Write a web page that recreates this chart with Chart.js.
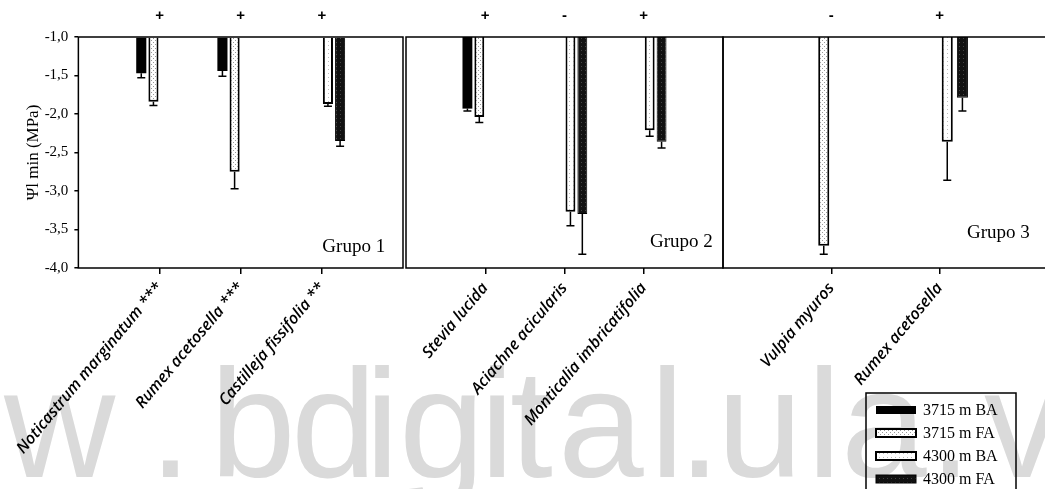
<!DOCTYPE html>
<html>
<head>
<meta charset="utf-8">
<script src="https://cdn.jsdelivr.net/npm/chart.js@4.4.1/dist/chart.umd.min.js"></script>
<style>
html, body { margin: 0; padding: 0; background: #fff; overflow: hidden; width: 1045px; height: 489px; }
canvas { position: absolute; top: 0; }
</style>
</head>
<body>
<canvas id="marca" width="1045" height="489" style="left:0"></canvas>
<canvas id="graph1" width="409" height="489" style="left:-5px"></canvas>
<canvas id="graph2" width="320" height="489" style="left:404px"></canvas>
<canvas id="graph3" width="335" height="489" style="left:722px"></canvas>
<script>
// series (leyenda)
var series = ['3715 m BA', '3715 m FA', '4300 m BA', '4300 m FA'];
var yTicks = [-1.0, -1.5, -2.0, -2.5, -3.0, -3.5, -4.0];

// Grupo 1
var grupo1 = ['Noticastrum marginatum ***', 'Rumex acetosella ***', 'Castilleja fissifolia **'];
var signos1 = ['+', '+', '+'];
var g1BA3715 = [-1.47, -1.44, null];
var g1FA3715 = [-1.84, -2.75, null];
var g1BA4300 = [null, null, -1.87];
var g1FA4300 = [null, null, -2.35];
var e1BA3715 = [0.06, 0.07, null];
var e1FA3715 = [0.05, 0.22, null];
var e1BA4300 = [null, null, 0.03];
var e1FA4300 = [null, null, 0.07];

// Grupo 2
var grupo2 = ['Stevia lucida', 'Aciachne acicularis', 'Monticalia imbricatifolia'];
var signos2 = ['+', '-', '+'];
var g2BA3715 = [-1.93, null, null];
var g2FA3715 = [-2.04, null, null];
var g2BA4300 = [null, -3.27, -2.21];
var g2FA4300 = [null, -3.30, -2.36];
var e2BA3715 = [0.03, null, null];
var e2FA3715 = [0.07, null, null];
var e2BA4300 = [null, 0.18, 0.08];
var e2FA4300 = [null, 0.52, 0.08];

// Grupo 3
var grupo3 = ['Vulpia myuros', 'Rumex acetosella'];
var signos3 = ['-', '+'];
var g3BA3715 = [null, null];
var g3FA3715 = [-3.71, null];
var g3BA4300 = [null, -2.36];
var g3FA4300 = [null, -1.79];
var e3BA3715 = [null, null];
var e3FA3715 = [0.11, null];
var e3BA4300 = [null, 0.50];
var e3FA4300 = [null, 0.17];

var serif = '"Liberation Serif", serif';

// marca de agua (cada letra en su sitio)
var mc = document.getElementById('marca').getContext('2d');
mc.font = '154px "Liberation Sans"';
mc.fillStyle = '#dadada';
var marca = [['w', 3], ['.', 163], ['b', 219], ['d', 297], ['i', 375], ['g', 405], ['i', 490],
    ['t', 512], ['a', 564], ['l', 660], ['.', 692], ['u', 727], ['l', 817], ['a', 847], ['.', 943], ['v', 984]];
marca.forEach(function (m) {
    var w = mc.measureText(m[0]);
    mc.fillText(m[0], m[1] + w.actualBoundingBoxLeft, 477);
});

function patron(bg, fg, dots) {
    var c = document.createElement('canvas');
    c.width = 4; c.height = 4;
    var x = c.getContext('2d');
    x.fillStyle = bg; x.fillRect(0, 0, 4, 4);
    x.fillStyle = fg;
    dots.forEach(function (d) { x.fillRect(d[0], d[1], 1, 1); });
    return mc.createPattern(c, 'repeat');
}
var fills = [
    '#000',
    patron('#fff', '#999', [[0, 0], [2, 2]]),
    patron('#fff', '#bbb', [[1, 1]]),
    patron('#111', '#444', [[1, 2]])
];
var borders = [0, 2, 2, 1];

function pad(a) { return [null].concat(a, [null]); }

var errorBars = {
    id: 'errorBars',
    afterDatasetsDraw: function (chart) {
        var ctx = chart.ctx, y = chart.scales.y;
        ctx.save();
        ctx.strokeStyle = '#000';
        ctx.lineWidth = 1.5;
        chart.data.datasets.forEach(function (ds, i) {
            var meta = chart.getDatasetMeta(i);
            meta.data.forEach(function (bar, j) {
                var v = ds.data[j], e = ds.errores[j];
                if (v == null || e == null) return;
                var y0 = y.getPixelForValue(v), y1 = y.getPixelForValue(v - e);
                ctx.beginPath();
                ctx.moveTo(bar.x, y0); ctx.lineTo(bar.x, y1);
                ctx.moveTo(bar.x - 4, y1); ctx.lineTo(bar.x + 4, y1);
                ctx.stroke();
            });
        });
        ctx.restore();
    }
};

var caja = {
    id: 'caja',
    afterDraw: function (chart, args, opts) {
        var ctx = chart.ctx, a = chart.chartArea, x = chart.scales.x;
        ctx.save();
        ctx.strokeStyle = '#000';
        ctx.lineWidth = 1.5;
        ctx.strokeRect(a.left, a.top, a.right - a.left, a.bottom - a.top);
        // signos sobre cada especie
        ctx.fillStyle = '#000';
        ctx.font = 'bold 15px "Liberation Sans"';
        ctx.textAlign = 'center';
        ctx.textBaseline = 'middle';
        opts.signos.forEach(function (s, i) {
            ctx.fillText(s, x.getPixelForValue(i + 1), 16);
        });
        // etiqueta del grupo
        ctx.font = '19px ' + serif;
        ctx.textAlign = 'left';
        ctx.fillText(opts.grupo, a.left + 244, opts.grupoY);
        ctx.restore();
    }
};

var leyenda = {
    id: 'leyenda',
    afterDraw: function (chart, args, opts) {
        if (!opts.show) return;
        var ctx = chart.ctx;
        ctx.save();
        ctx.strokeStyle = '#000';
        ctx.lineWidth = 1.5;
        ctx.strokeRect(144, 393, 150, 110);
        ctx.font = '16px ' + serif;
        ctx.textBaseline = 'middle';
        chart.data.datasets.forEach(function (ds, i) {
            var yy = 410 + i * 23;
            ctx.fillStyle = ds.backgroundColor;
            ctx.fillRect(154, yy - 4, 40, 8);
            if (ds.borderWidth) {
                ctx.lineWidth = ds.borderWidth;
                ctx.strokeRect(154, yy - 4, 40, 8);
            }
            ctx.fillStyle = '#000';
            ctx.fillText(ds.label, 201, yy + 1);
        });
        ctx.restore();
    }
};

function makeChart(id, especies, valores, errores, signos, grupo, grupoY, first, cat, barp, padL, padR, showLegend) {
    var ctx = document.getElementById(id).getContext('2d');
    return new Chart(ctx, {
        type: 'bar',
        data: {
            labels: pad(especies),
            datasets: series.map(function (s, i) {
                return {
                    label: s,
                    data: pad(valores[i]),
                    errores: pad(errores[i]),
                    base: -1,
                    backgroundColor: fills[i],
                    borderColor: '#000',
                    borderWidth: borders[i],
                    categoryPercentage: cat,
                    barPercentage: barp
                };
            })
        },
        options: {
            responsive: false,
            animation: false,
            layout: { padding: { top: 37, left: padL, right: padR, bottom: 0 } },
            plugins: {
                legend: { display: false },
                tooltip: { enabled: false },
                caja: { signos: signos, grupo: grupo, grupoY: grupoY },
                leyenda: { show: showLegend }
            },
            scales: {
                x: {
                    offset: false,
                    afterFit: function (s) { s.height = 221; },
                    border: { display: false },
                    grid: {
                        offset: false,
                        drawOnChartArea: false,
                        tickLength: 6,
                        lineWidth: 1.5,
                        color: function (c) { return c.tick && c.tick.label ? '#000' : 'rgba(0,0,0,0)'; }
                    },
                    ticks: {
                        autoSkip: false,
                        minRotation: 50,
                        maxRotation: 50,
                        padding: 5,
                        color: '#000',
                        font: { family: '"Open Sans"', size: 16, style: 'italic', weight: '600' }
                    }
                },
                y: {
                    display: first,
                    min: -4,
                    max: -1,
                    afterFit: function (s) { if (first) s.width = 80; },
                    afterBuildTicks: function (s) { s.ticks = yTicks.map(function (v) { return { value: v }; }); },
                    border: { display: false },
                    grid: { drawOnChartArea: false, tickLength: 4, color: '#000', lineWidth: 1.5 },
                    ticks: {
                        color: '#000',
                        padding: 6,
                        font: { family: serif, size: 15 },
                        callback: function (v) { return v.toFixed(1).replace('.', ','); }
                    },
                    title: {
                        display: true,
                        text: 'Ψl min (MPa)',
                        color: '#000',
                        padding: { top: 25, bottom: 0 },
                        font: { family: serif, size: 17 }
                    }
                }
            }
        },
        plugins: [errorBars, caja, leyenda]
    });
}

var graph1 = makeChart('graph1', grupo1,
    [g1BA3715, g1FA3715, g1BA4300, g1FA4300],
    [e1BA3715, e1FA3715, e1BA4300, e1FA4300],
    signos1, 'Grupo 1', 247, true, 0.6, 0.83, 0, 1, false);

var graph2 = makeChart('graph2', grupo2,
    [g2BA3715, g2FA3715, g2BA4300, g2FA4300],
    [e2BA3715, e2FA3715, e2BA4300, e2FA4300],
    signos2, 'Grupo 2', 242, false, 0.6, 0.83, 2, 1, false);

var graph3 = makeChart('graph3', grupo3,
    [g3BA3715, g3FA3715, g3BA4300, g3FA4300],
    [e3BA3715, e3FA3715, e3BA4300, e3FA4300],
    signos3, 'Grupo 3', 233, false, 0.56, 0.73, 1, 9, true);
</script>
</body>
</html>
